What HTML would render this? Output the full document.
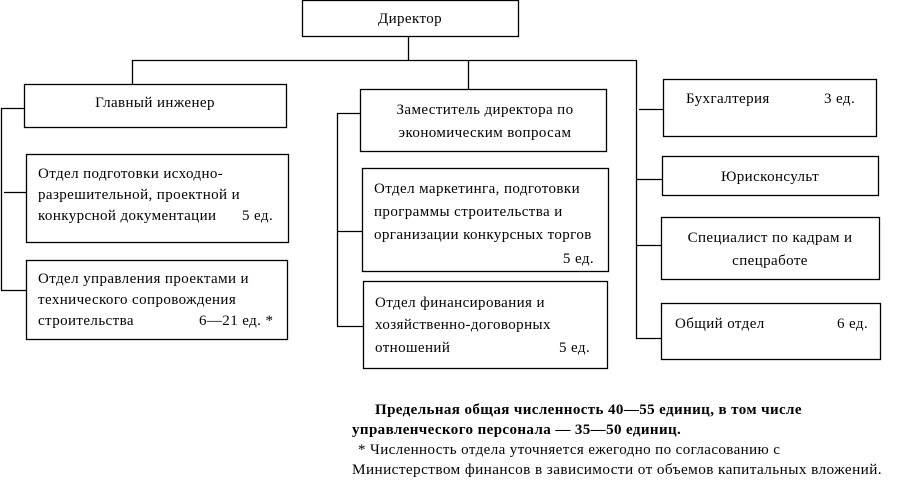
<!DOCTYPE html>
<html><head><meta charset="utf-8"><style>
html,body{margin:0;padding:0;background:#fff;}
svg{display:block;}
text{font-family:"Liberation Serif","DejaVu Serif",serif;font-size:15px;letter-spacing:0.4px;fill:#000;}
.b{font-weight:bold;}
</style></head><body>
<svg width="905" height="491" viewBox="0 0 905 491" xmlns="http://www.w3.org/2000/svg">
<g fill="none" stroke="#000" stroke-width="1.3">
<rect x="302.5" y="0.5" width="216" height="36"/>
<line x1="408.5" y1="36" x2="408.5" y2="60.5"/>
<line x1="132" y1="60.5" x2="636.5" y2="60.5"/>
<line x1="132.5" y1="60" x2="132.5" y2="84"/>
<line x1="468.5" y1="60" x2="468.5" y2="89"/>
<line x1="636.5" y1="60" x2="636.5" y2="338.5"/>
<rect x="24.5" y="84.5" width="262" height="43"/>
<rect x="26.5" y="154.5" width="262" height="88"/>
<rect x="26.5" y="260.5" width="261" height="79"/>
<line x1="1.5" y1="108" x2="1.5" y2="290.5"/>
<line x1="1" y1="108.5" x2="24" y2="108.5"/>
<line x1="4" y1="192.5" x2="26" y2="192.5"/>
<line x1="1" y1="290.5" x2="26" y2="290.5"/>
<rect x="360.5" y="89.5" width="246" height="62"/>
<rect x="362.5" y="168.5" width="246" height="103"/>
<rect x="363.5" y="281.5" width="244" height="87"/>
<line x1="337.5" y1="113" x2="337.5" y2="326.5"/>
<line x1="337" y1="113.5" x2="360" y2="113.5"/>
<line x1="337" y1="231.5" x2="362" y2="231.5"/>
<line x1="337" y1="326.5" x2="363" y2="326.5"/>
<rect x="663.5" y="79.5" width="213" height="57"/>
<rect x="662.5" y="156.5" width="216" height="39"/>
<rect x="661.5" y="217.5" width="218" height="62"/>
<rect x="661.5" y="303.5" width="219" height="56"/>
<line x1="639" y1="109.5" x2="663" y2="109.5"/>
<line x1="636" y1="179.5" x2="662" y2="179.5"/>
<line x1="636" y1="245.5" x2="661" y2="245.5"/>
<line x1="636" y1="338.5" x2="661" y2="338.5"/>
</g>
<text x="410" y="23" text-anchor="middle">Директор</text>
<text x="155" y="107" text-anchor="middle">Главный инженер</text>
<text x="38" y="178">Отдел подготовки исходно-</text>
<text x="38" y="199">разрешительной, проектной и</text>
<text x="38" y="220">конкурсной документации</text>
<text x="242" y="220">5 ед.</text>
<text x="38" y="283">Отдел управления проектами и</text>
<text x="38" y="304">технического сопровождения</text>
<text x="38" y="325">строительства</text>
<text x="199" y="325">6—21 ед. *</text>
<text x="485" y="114" text-anchor="middle">Заместитель директора по</text>
<text x="485" y="137" text-anchor="middle">экономическим вопросам</text>
<text x="374" y="193">Отдел маркетинга, подготовки</text>
<text x="374" y="216">программы строительства и</text>
<text x="374" y="239">организации конкурсных торгов</text>
<text x="594" y="263" text-anchor="end">5 ед.</text>
<text x="375" y="307">Отдел финансирования и</text>
<text x="375" y="329">хозяйственно-договорных</text>
<text x="375" y="352">отношений</text>
<text x="559" y="352">5 ед.</text>
<text x="686" y="103">Бухгалтерия</text>
<text x="824" y="103">3 ед.</text>
<text x="770" y="181" text-anchor="middle">Юрисконсульт</text>
<text x="770" y="242" text-anchor="middle">Специалист по кадрам и</text>
<text x="770" y="265" text-anchor="middle">спецработе</text>
<text x="675" y="328">Общий отдел</text>
<text x="837" y="328">6 ед.</text>
<text class="b" x="375" y="414">Предельная общая численность 40—55 единиц, в том числе</text>
<text class="b" x="352" y="434">управленческого персонала — 35—50 единиц.</text>
<text x="358" y="454">* Численность отдела уточняется ежегодно по согласованию с</text>
<text x="352" y="474" textLength="530" lengthAdjust="spacingAndGlyphs">Министерством финансов в зависимости от объемов капитальных вложений.</text>
</svg>
</body></html>
